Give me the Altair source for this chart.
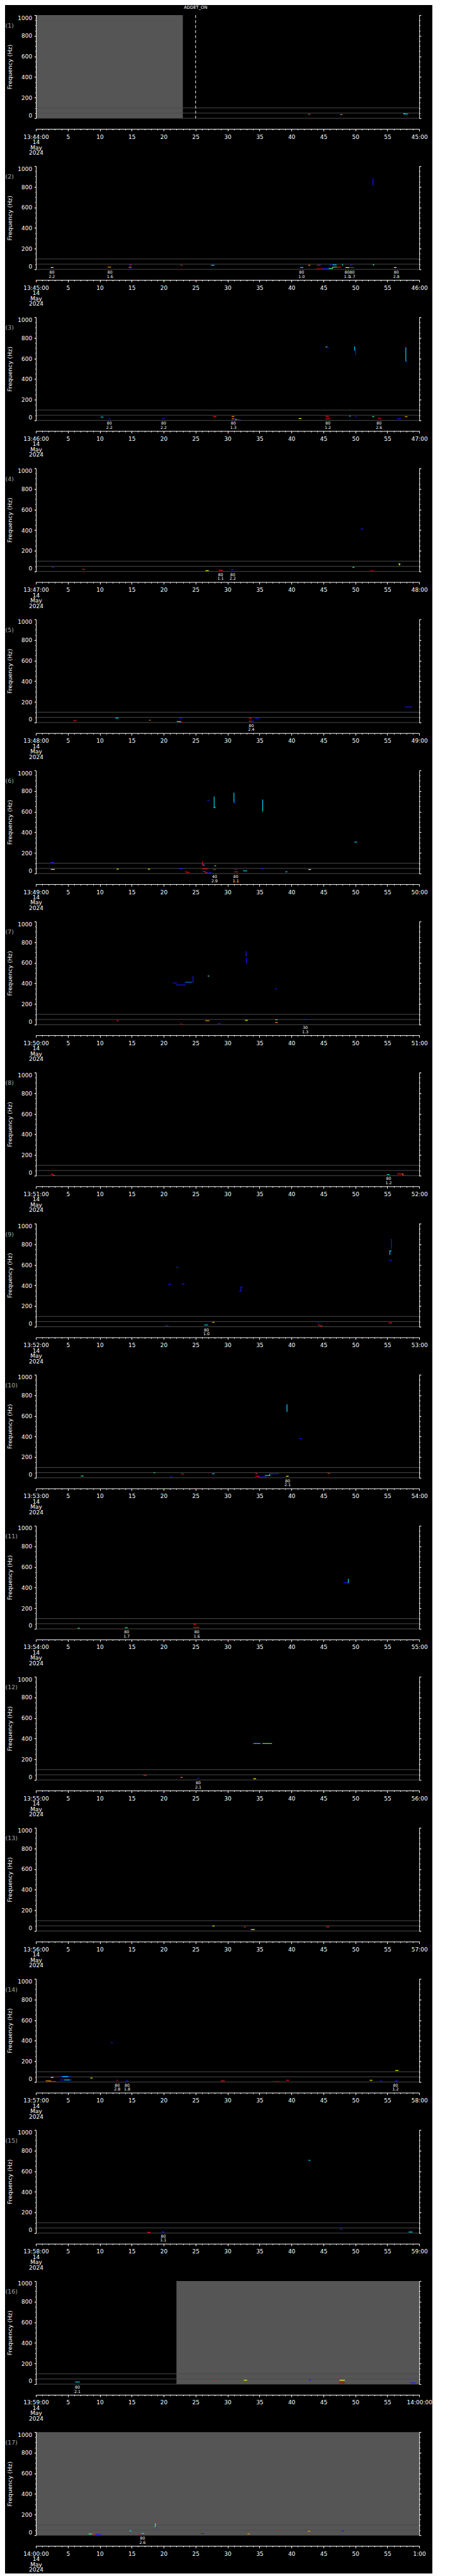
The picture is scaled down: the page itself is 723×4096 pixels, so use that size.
import altair as alt
import pandas as pd

# ---------------- colours of the detection pixels ----------------
B = "#1818ff"; LB = "#0070ff"; C = "#00d8ff"; G = "#30ff80"
Y = "#ffff00"; O = "#ff9a00"; R = "#ff1010"; DR = "#a00000"

# ---------------- axis texts ----------------
START_LABELS = ["13:44:00", "13:45:00", "13:46:00", "13:47:00", "13:48:00", "13:49:00",
                "13:50:00", "13:51:00", "13:52:00", "13:53:00", "13:54:00", "13:55:00",
                "13:56:00", "13:57:00", "13:58:00", "13:59:00", "14:00:00"]
END_LABELS = ["45:00", "46:00", "47:00", "48:00", "49:00", "50:00", "51:00", "52:00",
              "53:00", "54:00", "55:00", "56:00", "57:00", "58:00", "59:00", "14:00:00", "1:00"]
DATE_LINES = ["14", "May", "2024"]
Y_TICKS = [0, 200, 400, 600, 800, 1000]
Y_MINOR = [0, 50, 100, 150, 200, 250, 300, 350, 400, 450, 500, 550, 600, 650, 700, 750,
           800, 850, 900, 950, 1000]
X_TICKS = [0, 5, 10, 15, 20, 25, 30, 35, 40, 45, 50, 55, 60]
X_MINOR = list(range(0, 61))
GUIDE_HZ = [0, 50, 100]
FREQ_RANGE = [0, 1000]
TIME_RANGE = [0, 60]

# shaded (no data) intervals
SHADE_PANEL = [1, 16, 17]
SHADE_T0 = [0, 22, 0]
SHADE_T1 = [23, 60, 60]

# ADDET_ON marker
MARK_PANEL = [1]
MARK_T = [25]
MARK_TEXT = ["ADDET_ON"]

# ---------------- detections: (t0 s, t1 s, f0 Hz, f1 Hz, colour) ----------------
SEG_01 = [(42.7, 42.8, 39, 39, C), (42.8, 42.9, 39, 39, R), (47.6, 47.75, 33, 33, B),
          (47.75, 47.9, 36, 36, O), (57.6, 57.7, 46, 46, G), (57.6, 58.2, 42, 42, C)]
SEG_02 = [(2.4, 2.7, 17, 17, Y), (11.3, 11.7, 21, 21, O), (14.6, 14.75, 43, 43, B),
          (14.75, 14.9, 43, 43, R), (14.6, 14.9, 20, 20, O), (14.8, 15.0, 14, 14, B),
          (22.7, 22.9, 39, 39, R), (27.5, 27.9, 39, 39, C), (41.4, 41.8, 17, 17, C),
          (42.7, 42.9, 39, 39, O), (44.1, 44.35, 39, 39, R), (44.35, 44.6, 39, 39, B),
          (43.9, 44.9, 9, 9, DR), (44.9, 45.9, 9, 9, B), (45.9, 46.4, 9, 9, G),
          (46.4, 46.5, 9, 21, G), (46.5, 47.1, 21, 21, G), (47.1, 47.7, 21, 21, R),
          (46.0, 46.5, 43, 43, B), (46.5, 47.0, 43, 43, C), (48.0, 48.0, 39, 50, C),
          (48.5, 49.0, 17, 17, Y), (49.2, 49.7, 17, 17, R), (49.2, 49.5, 43, 43, B),
          (52.75, 52.75, 879, 815, B), (52.8, 52.9, 40, 48, G), (56.1, 56.4, 17, 17, Y)]
SEG_03 = [(10.2, 10.5, 32, 32, C), (11.45, 11.6, 15, 15, B), (19.8, 20.1, 15, 15, B),
          (27.8, 28.2, 37, 37, R), (30.7, 31.0, 37, 37, O), (30.7, 31.0, 15, 15, O),
          (31.0, 31.1, 15, 15, B), (31.2, 31.5, 8, 8, O), (31.5, 32.0, 7, 6, B),
          (41.2, 41.5, 18, 18, Y), (45.4, 45.8, 38, 38, R), (45.4, 46.0, 15, 15, R),
          (45.4, 45.55, 712, 712, C), (45.55, 45.8, 707, 707, B), (49.9, 49.9, 712, 680, C),
          (50.05, 50.05, 680, 638, B), (49.1, 49.2, 41, 41, C), (50.0, 50.1, 36, 36, B),
          (52.7, 52.9, 36, 36, G), (53.6, 53.9, 20, 20, R), (56.6, 57.1, 17, 17, B),
          (57.8, 58.1, 36, 36, O), (57.9, 57.9, 705, 572, C), (57.9, 58.05, 572, 572, B)]
SEG_04 = [(2.5, 2.8, 39, 39, B), (7.3, 7.6, 21, 21, R), (26.6, 27.0, 7, 7, Y),
          (28.7, 29.2, 11, 11, R), (30.6, 30.9, 17, 17, B), (50.9, 51.2, 411, 411, B),
          (49.6, 49.8, 39, 39, G), (52.3, 53.0, 8, 3, DR), (56.8, 57.0, 75, 70, G),
          (56.9, 56.9, 72, 62, Y)]
SEG_05 = [(5.9, 6.3, 17, 17, R), (12.5, 12.9, 43, 43, C), (17.8, 17.9, 22, 22, O),
          (22.5, 22.9, 43, 43, B), (22.1, 22.6, 9, 9, O), (22.6, 23.1, 4, 2, DR),
          (22.5, 22.7, 7, 5, C), (33.4, 33.7, 41, 41, R), (33.4, 33.8, 13, 13, R),
          (33.8, 34.1, 13, 13, B), (34.4, 34.9, 41, 41, B), (57.8, 58.8, 150, 150, B)]
SEG_06 = [(2.4, 2.8, 107, 107, B), (2.4, 2.9, 40, 40, Y), (12.7, 12.9, 43, 43, Y),
          (17.6, 17.8, 43, 43, Y), (22.5, 22.9, 47, 47, B), (23.4, 24.0, 17, 10, R),
          (26.1, 26.1, 116, 82, R), (26.2, 26.35, 82, 82, C), (26.1, 26.8, 45, 45, R),
          (26.2, 26.8, 22, 8, R), (26.8, 27.5, 7, 7, B), (27.8, 28.1, 39, 39, R),
          (28.0, 28.15, 75, 75, G), (26.9, 27.1, 709, 709, B), (27.9, 27.9, 744, 640, C),
          (27.9, 28.1, 640, 640, C), (31.0, 31.0, 780, 690, C), (31.0, 31.2, 690, 680, B),
          (35.5, 35.5, 714, 606, C), (31.1, 31.5, 40, 40, B), (31.1, 31.6, 17, 17, R),
          (32.5, 33.0, 26, 26, C), (35.4, 35.7, 49, 49, B), (39.1, 39.3, 17, 17, C),
          (42.7, 43.0, 39, 39, Y), (49.9, 50.2, 305, 305, C)]
SEG_07 = [(12.7, 12.9, 38, 38, R), (22.6, 23.0, 9, 3, DR), (21.5, 22.0, 404, 404, B),
          (22.0, 23.4, 385, 385, B), (23.4, 24.4, 411, 411, LB), (24.6, 24.6, 411, 469, B),
          (26.95, 27.1, 471, 471, G), (26.6, 27.1, 38, 38, O), (28.5, 28.9, 9, 9, B),
          (32.9, 32.9, 671, 709, B), (32.8, 32.9, 671, 671, B), (32.95, 32.95, 643, 597, B),
          (32.8, 33.1, 42, 42, Y), (37.5, 37.7, 346, 346, B), (37.5, 37.8, 47, 47, C),
          (37.5, 37.8, 21, 21, O), (42.0, 42.2, 49, 49, B)]
SEG_08 = [(2.4, 3.0, 17, 0, R), (55.0, 55.3, 11, 11, C), (56.6, 57.4, 17, 17, R),
          (57.4, 57.5, 17, 2, O), (57.4, 58.2, 2, 2, DR)]
SEG_09 = [(20.3, 20.7, 11, 11, B), (20.8, 21.1, 411, 411, B), (22.0, 22.3, 576, 576, B),
          (22.9, 23.2, 415, 415, B), (26.4, 26.9, 17, 17, C), (27.65, 27.9, 43, 43, O),
          (31.9, 32.1, 346, 346, B), (32.1, 32.1, 346, 383, B), (32.1, 32.3, 383, 383, B),
          (44.2, 44.3, 37, 37, B), (44.2, 44.8, 17, 7, R), (55.4, 55.4, 700, 735, C),
          (55.4, 55.6, 735, 735, C), (55.65, 55.65, 760, 847, B), (55.3, 55.7, 645, 645, B),
          (55.3, 55.7, 37, 37, R)]
SEG_10 = [(7.1, 7.4, 17, 17, G), (18.5, 18.6, 50, 50, G), (21.1, 21.3, 11, 11, B),
          (22.8, 23.1, 37, 37, R), (27.65, 27.9, 39, 39, C), (34.4, 34.6, 49, 37, R),
          (34.4, 34.9, 15, 15, R), (34.9, 36.1, 7, 7, B), (35.9, 36.6, 22, 22, C),
          (36.6, 36.6, 22, 39, G), (36.6, 38.0, 39, 39, B), (39.3, 39.3, 709, 643, C),
          (39.1, 39.2, 680, 680, B), (39.2, 39.5, 15, 15, Y), (41.3, 41.6, 380, 380, B),
          (45.7, 46.0, 43, 43, R)]
SEG_11 = [(6.6, 6.8, 6, 6, G), (14.0, 14.3, 11, 11, G), (24.7, 25.0, 45, 45, R),
          (24.7, 25.5, 13, 13, R), (48.2, 48.9, 447, 447, B), (48.9, 48.9, 447, 481, C)]
SEG_12 = [(16.9, 17.3, 43, 43, R), (22.7, 22.9, 24, 24, O), (25.3, 25.5, 17, 17, B),
          (34.1, 34.4, 11, 11, Y), (34.1, 35.1, 353, 353, C), (35.5, 36.9, 353, 353, G)]
SEG_13 = [(27.7, 27.9, 48, 48, Y), (32.6, 32.8, 39, 39, R), (33.7, 34.2, 14, 14, Y),
          (45.5, 45.9, 39, 39, R)]
SEG_14 = [(1.6, 2.3, 11, 11, O), (2.4, 2.7, 45, 45, Y), (2.0, 3.1, 5, 5, R),
          (3.9, 5.4, 53, 53, B), (4.2, 5.0, 53, 53, C), (3.8, 5.6, 20, 20, B),
          (4.5, 5.3, 20, 20, C), (8.6, 8.8, 39, 39, Y), (11.8, 12.0, 382, 382, B),
          (12.7, 12.8, 17, 17, R), (14.1, 14.4, 11, 11, B), (29.0, 29.5, 11, 11, R),
          (37.2, 38.2, 5, 5, DR), (39.2, 39.6, 17, 17, R), (52.3, 52.6, 17, 17, Y),
          (53.9, 54.1, 11, 11, B), (56.2, 56.6, 11, 11, B), (56.3, 56.7, 112, 112, Y)]
SEG_15 = [(17.5, 17.9, 9, 5, R), (19.7, 20.1, 11, 11, B), (42.7, 42.9, 705, 705, C),
          (47.6, 47.9, 37, 37, B), (58.4, 58.9, 11, 11, C)]
SEG_16 = [(6.2, 6.8, 21, 21, C), (27.9, 28.1, 39, 39, R), (32.6, 33.0, 39, 39, Y),
          (42.8, 43.0, 45, 39, B), (47.6, 48.3, 39, 39, Y), (47.6, 48.3, 13, 13, DR),
          (58.7, 59.4, 13, 13, B)]
SEG_17 = [(8.3, 8.8, 13, 13, G), (8.8, 9.4, 13, 10, R), (9.4, 10.2, 9, 9, B),
          (9.8, 9.9, 39, 39, R), (14.7, 14.9, 47, 40, C), (16.1, 16.3, 13, 13, R),
          (16.6, 16.9, 17, 17, C), (18.7, 18.7, 113, 75, G), (18.75, 18.9, 75, 70, B),
          (25.9, 26.3, 17, 17, B), (33.2, 33.4, 13, 13, O), (37.7, 38.1, 39, 39, R),
          (42.6, 42.9, 39, 39, O), (47.9, 48.2, 39, 39, B)]

# ---------------- annotations under the plots: (t s, line1, line2) ----------------
ANN_01 = []
ANN_02 = [(2.5, "80", "2.2"), (11.6, "80", "1.6"), (41.6, "80", "1.0"), (48.7, "80", "1.1"),
          (49.5, "80", "1.7"), (56.4, "80", "2.8")]
ANN_03 = [(11.5, "80", "2.2"), (20.0, "80", "2.2"), (30.9, "80", "1.3"), (45.7, "80", "1.2"),
          (53.7, "80", "2.6")]
ANN_04 = [(28.9, "80", "1.1"), (30.8, "80", "2.2")]
ANN_05 = [(33.7, "80", "2.4")]
ANN_06 = [(27.96, "40", "2.9"), (31.3, "80", "1.1")]
ANN_07 = [(42.15, "30", "1.3")]
ANN_08 = [(55.2, "80", "1.2")]
ANN_09 = [(26.7, "80", "1.0")]
ANN_10 = [(39.4, "80", "2.1")]
ANN_11 = [(14.2, "80", "1.7"), (25.2, "80", "1.6")]
ANN_12 = [(25.4, "80", "2.1")]
ANN_13 = []
ANN_14 = [(12.73, "80", "2.8"), (14.28, "80", "1.8"), (56.3, "80", "1.2")]
ANN_15 = [(19.94, "80", "1.1")]
ANN_16 = [(6.5, "80", "2.1")]
ANN_17 = [(16.7, "80", "2.6")]

SEGS = [SEG_01, SEG_02, SEG_03, SEG_04, SEG_05, SEG_06, SEG_07, SEG_08, SEG_09, SEG_10,
        SEG_11, SEG_12, SEG_13, SEG_14, SEG_15, SEG_16, SEG_17]
ANNS = [ANN_01, ANN_02, ANN_03, ANN_04, ANN_05, ANN_06, ANN_07, ANN_08, ANN_09, ANN_10,
        ANN_11, ANN_12, ANN_13, ANN_14, ANN_15, ANN_16, ANN_17]

# ---------------- layout (0.705 of the reference) ----------------
W = 609.2
H = 164.0
FONT = "DejaVu Sans"

xs = alt.Scale(domain=TIME_RANGE, nice=False, zero=False)
ys = alt.Scale(domain=FREQ_RANGE, nice=False, zero=False)


def make_panel(k):
    i = k - 1
    layers = []

    # shaded no-data intervals
    sh = [(t0, t1) for p, t0, t1 in zip(SHADE_PANEL, SHADE_T0, SHADE_T1) if p == k]
    if sh:
        df = pd.DataFrame({"t0": [a for a, b in sh], "t1": [b for a, b in sh],
                           "lo": FREQ_RANGE[0], "hi": FREQ_RANGE[1]})
        layers.append(alt.Chart(df).mark_rect(color="#555555").encode(
            x=alt.X("t0:Q", scale=xs, axis=None), x2="t1:Q",
            y=alt.Y("lo:Q", scale=ys, axis=None), y2="hi:Q"))

    # guide lines at 0, 50, 100 Hz
    layers.append(alt.Chart(pd.DataFrame({"hz": GUIDE_HZ})).mark_rule(
        color="#4a4a4a", strokeWidth=1).encode(y=alt.Y("hz:Q", scale=ys, axis=None)))

    # marker line
    mk = [(t, s) for p, t, s in zip(MARK_PANEL, MARK_T, MARK_TEXT) if p == k]
    if mk:
        mdf = pd.DataFrame({"t": [a for a, b in mk], "txt": [b for a, b in mk]})
        layers.append(alt.Chart(mdf).mark_rule(color="white", strokeWidth=1,
                                               strokeDash=[4.5, 3.5]).encode(
            x=alt.X("t:Q", scale=xs, axis=None)))
        layers.append(alt.Chart(mdf).mark_text(color="white", fontSize=6.8, font=FONT,
                                               baseline="alphabetic").encode(
            x=alt.X("t:Q", scale=xs, axis=None), y=alt.value(-10.4), text="txt:N"))

    # detections
    segs = SEGS[i]
    sdf = pd.DataFrame(segs, columns=["t0", "t1", "f0", "f1", "c"])
    layers.append(alt.Chart(sdf).mark_rule(strokeWidth=1.2, strokeCap="square").encode(
        x=alt.X("t0:Q", scale=xs, axis=None), x2="t1:Q",
        y=alt.Y("f0:Q", scale=ys, axis=None), y2="f1:Q",
        color=alt.Color("c:N", scale=None)))

    # annotations below the plot
    anns = ANNS[i]
    if anns:
        adf = pd.DataFrame({"t": [a[0] for a in anns],
                            "lbl": [a[1] + "\n" + a[2] for a in anns]})
        layers.append(alt.Chart(adf).mark_text(
            color="white", fontSize=6.3, font=FONT, lineBreak="\n", lineHeight=6.6,
            baseline="top", align="center").encode(
            x=alt.X("t:Q", scale=xs, axis=None),
            y=alt.YDatum(-12, axis=None),
            text="lbl:N"))

    # panel number
    layers.append(alt.Chart(pd.DataFrame({"lbl": ["(%d)" % k]})).mark_text(
        color="#a8a8a8", fontSize=9.5, font=FONT, align="left", baseline="middle").encode(
        x=alt.value(-48.5), y=alt.value(17), text="lbl:N"))

    # axes (invisible point layers, one per axis pair)
    axdf = pd.DataFrame({"t": [TIME_RANGE[0]], "hz": [FREQ_RANGE[0]]})
    start = START_LABELS[i]
    end = END_LABELS[i]
    first = "[" + ",".join("'%s'" % s for s in [start] + DATE_LINES) + "]"
    label_expr = "datum.value == 0 ? %s : datum.value == 60 ? '%s' : datum.label" % (first, end)

    x_major = alt.Axis(orient="bottom", values=X_TICKS, offset=16.9, tickSize=3.3,
                       labelExpr=label_expr, labelFlush=False, labelOverlap=False,
                       labelPadding=4.8, labelLineHeight=8.5, labelFontSize=9,
                       labelBaseline="top", domain=True, zindex=1)
    x_minor = alt.Axis(orient="bottom", values=X_MINOR, offset=16.9, tickSize=1.6,
                       labels=False, domain=False, zindex=1)
    y_major = alt.Axis(orient="left", values=Y_TICKS, format="d", tickSize=2.8,
                       labelPadding=3.5, labelFlush=True, labelFontSize=9, titlePadding=7,
                       titleFontSize=9.5, domain=True, zindex=1)
    y_minor = alt.Axis(orient="left", values=Y_MINOR, tickSize=1.4, labels=False,
                       domain=False, zindex=1)
    yr_major = alt.Axis(orient="right", values=Y_TICKS, tickSize=2.8, labels=False,
                        domain=True, zindex=1)
    yr_minor = alt.Axis(orient="right", values=Y_MINOR, tickSize=1.4, labels=False,
                        domain=False, zindex=1)

    base = alt.Chart(axdf).mark_point(opacity=0)
    layers.append(base.encode(x=alt.X("t:Q", scale=xs, axis=x_major, title=None),
                              y=alt.Y("hz:Q", scale=ys, axis=y_major,
                                      title="Frequency (Hz)")))
    layers.append(base.encode(x=alt.X("t:Q", scale=xs, axis=x_minor, title=None),
                              y=alt.Y("hz:Q", scale=ys, axis=y_minor, title=None)))
    layers.append(base.encode(x=alt.X("t:Q", scale=xs, axis=None),
                              y=alt.Y("hz:Q", scale=ys, axis=yr_major, title=None)))
    layers.append(base.encode(x=alt.X("t:Q", scale=xs, axis=None),
                              y=alt.Y("hz:Q", scale=ys, axis=yr_minor, title=None)))

    return alt.layer(*layers).properties(width=W, height=H).resolve_axis(
        x="independent", y="independent")


panels = [make_panel(k) for k in range(1, 18)]

chart = alt.vconcat(*panels, spacing=76.2, bounds="flush").properties(
    background="black", padding=0
).configure_view(stroke="transparent").configure_axis(
    labelColor="white", tickColor="white", domainColor="white", titleColor="white",
    labelFont=FONT, titleFont=FONT, titleFontWeight="normal", grid=False,
    tickWidth=1, domainWidth=1
)

chart.save("out.html", embed_options={"renderer": "svg", "actions": False})
